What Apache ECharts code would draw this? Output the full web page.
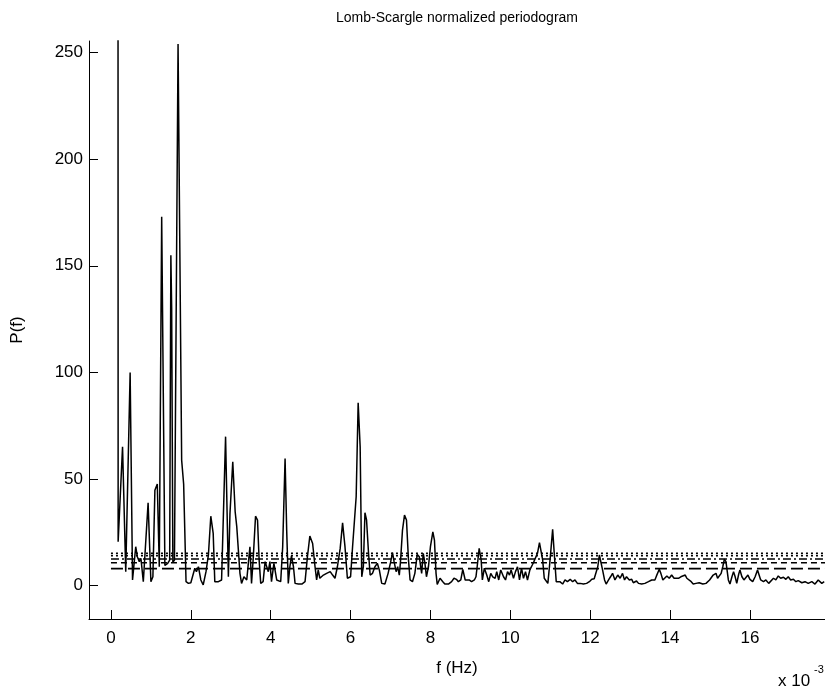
<!DOCTYPE html>
<html>
<head>
<meta charset="utf-8">
<script src="https://cdn.jsdelivr.net/npm/echarts@6/dist/echarts.min.js"></script>
<style>
  html, body { margin: 0; padding: 0; background: #fff; }
  #chart { width: 825px; height: 693px; }
</style>
</head>
<body>
<div id="chart"></div>
<script>
// Lomb-Scargle normalized periodogram, frequency in units of 1e-3 Hz
// [frequency, power] points, split by band
const lowBand = [
  [0.175, 420], [0.18, 20.6], [0.29, 65.2], [0.37, 6.6], [0.48, 100], [0.54, 2.7],
  [0.62, 18.3], [0.66, 13.6], [0.71, 11.3], [0.75, 12.9], [0.81, 1.9], [0.93, 38.9],
  [1.00, 1.9], [1.05, 4.2], [1.10, 44.8], [1.16, 47.7], [1.21, 8.9], [1.27, 173],
  [1.35, 9.5], [1.42, 10.5], [1.47, 12], [1.50, 155], [1.52, 130], [1.55, 11],
  [1.59, 12], [1.68, 254], [1.77, 58.9], [1.82, 47.7], [1.88, 1.9], [1.94, 1.1],
  [2.00, 1.4], [2.05, 1.1]
];
const midBand = [
  [2.10, 8.2], [2.14, 6.6], [2.19, 8.9], [2.25, 2.7], [2.31, 0.4], [2.38, 6.6], [2.44, 14.4],
  [2.50, 32.6], [2.56, 24.5], [2.60, 1.9], [2.69, 1.9], [2.77, 2.7], [2.87, 69.9], [2.94, 4.2],
  [2.98, 33.9], [3.05, 58.1], [3.11, 34.7], [3.15, 27.7], [3.23, 5.8], [3.27, 1.1], [3.33, 4.2],
  [3.40, 2.7], [3.44, 10.5], [3.48, 18.3], [3.52, 1.1], [3.56, 12.1], [3.62, 32.6], [3.67, 30.8],
  [3.71, 12.1], [3.75, 1.1], [3.81, 1.9], [3.86, 11.3], [3.90, 12.1], [3.94, 6.6], [3.98, 11.3],
  [4.02, 1.9], [4.08, 10.5], [4.15, 2.7], [4.19, 3.5], [4.25, 1.9], [4.30, 18.3], [4.36, 59.7],
  [4.40, 26.1], [4.44, 1.1], [4.48, 8.9], [4.52, 14.0], [4.57, 8.9], [4.61, 1.1], [4.69, 0.8],
  [4.78, 0.8], [4.86, 1.9], [4.92, 13.6], [4.98, 23.3], [5.05, 19.8], [5.11, 8.9], [5.15, 2.7],
  [5.19, 7.4], [5.23, 3.5], [5.32, 5.0], [5.40, 5.8], [5.49, 6.6], [5.55, 5.0], [5.61, 3.5],
  [5.67, 8.9], [5.74, 17.5], [5.80, 29.5], [5.86, 18.3], [5.92, 3.5], [5.97, 2.7], [6.00, 4.2],
  [6.05, 18.3], [6.09, 17.5], [6.14, 41.7], [6.19, 85.8], [6.24, 65.2], [6.28, 4.2], [6.32, 8.9],
  [6.36, 34.2], [6.40, 30.8], [6.45, 15.2], [6.49, 5.0], [6.55, 5.8], [6.61, 8.9], [6.67, 10.5],
  [6.72, 7.4], [6.78, 1.1], [6.86, 0.8], [6.94, 5.8], [7.00, 10.8], [7.05, 15.5], [7.09, 11.3],
  [7.14, 6.6], [7.18, 8.9], [7.22, 5.0], [7.25, 11.3], [7.30, 26.1], [7.35, 33.1], [7.40, 30.8],
  [7.45, 12.1], [7.49, 2.7], [7.55, 1.9], [7.61, 5.8], [7.67, 14.7], [7.72, 13.6], [7.78, 5.8],
  [7.82, 15.2], [7.86, 10.8], [7.90, 4.2], [7.95, 8.9], [8.00, 18.3], [8.06, 25.3], [8.10, 21.4],
  [8.14, 5.8], [8.17, 0.6], [8.24, 3.5], [8.31, 1.9], [8.36, 0.8], [8.45, 0.8], [8.53, 1.9],
  [8.59, 3.5], [8.65, 3.0]
];
const highBand = [
  [8.70, 1.9], [8.76, 2.7], [8.81, 7.7], [8.84, 7.4], [8.87, 2.7], [8.92, 1.9], [8.97, 2.7],
  [9.03, 1.9], [9.10, 2.7], [9.14, 4.2], [9.17, 8.9], [9.22, 17.5], [9.27, 12.1], [9.30, 2.7],
  [9.35, 8.2], [9.41, 5.0], [9.46, 1.9], [9.51, 5.8], [9.56, 4.2], [9.62, 3.5], [9.66, 6.6],
  [9.71, 2.7], [9.76, 7.4], [9.83, 4.2], [9.88, 2.7], [9.93, 6.6], [9.98, 5.0], [10.02, 7.4],
  [10.08, 3.5], [10.13, 6.6], [10.18, 8.9], [10.23, 2.7], [10.28, 8.2], [10.33, 3.5], [10.38, 6.6],
  [10.43, 2.7], [10.49, 7.4], [10.55, 9.7], [10.59, 11.3], [10.64, 12.1], [10.68, 15.2], [10.73, 20.2],
  [10.77, 19.5], [10.81, 12.1], [10.85, 3.5], [10.89, 2.7], [10.94, 1.1], [10.98, 8.9], [11.02, 17.5],
  [11.06, 26.4], [11.10, 15.2], [11.15, 1.9], [11.19, 1.1], [11.24, 1.9], [11.31, 0.8], [11.37, 2.7],
  [11.43, 1.9], [11.50, 3.0], [11.56, 1.9], [11.62, 2.7], [11.68, 1.1], [11.75, 1.1], [11.83, 0.8],
  [11.91, 1.1], [11.98, 1.9], [12.04, 3.0], [12.10, 3.3], [12.14, 4.2], [12.19, 8.9], [12.23, 14.4],
  [12.27, 15.2], [12.31, 7.4], [12.36, 2.7], [12.40, 0.8], [12.46, 2.7], [12.51, 4.2], [12.56, 5.8],
  [12.62, 2.7], [12.69, 5.0], [12.75, 3.5], [12.81, 5.8], [12.86, 2.7], [12.91, 4.2], [12.98, 2.7],
  [13.04, 3.0], [13.08, 1.4], [13.16, 2.2], [13.21, 1.1], [13.29, 0.8], [13.37, 1.1], [13.46, 1.9],
  [13.54, 2.7], [13.62, 2.7], [13.66, 4.6], [13.73, 7.7], [13.77, 5.8], [13.82, 2.7], [13.87, 1.9],
  [13.92, 4.6], [13.98, 3.5], [14.04, 5.0], [14.10, 3.5], [14.15, 2.7], [14.21, 3.5], [14.27, 4.2],
  [14.32, 4.2], [14.38, 5.0], [14.42, 3.5], [14.46, 2.7], [14.53, 1.9], [14.58, 0.8], [14.65, 1.1],
  [14.73, 1.4], [14.82, 0.8], [14.90, 1.1], [14.99, 2.7], [15.04, 3.0], [15.08, 5.0], [15.15, 5.8],
  [15.19, 3.5], [15.24, 2.7], [15.28, 5.8], [15.32, 8.9], [15.36, 12.4], [15.40, 11.3], [15.43, 12.1],
  [15.46, 2.7], [15.50, 0.8], [15.55, 4.2], [15.59, 6.6], [15.63, 4.2], [15.67, 1.1], [15.72, 5.5],
  [15.75, 7.4], [15.80, 4.2], [15.85, 2.7], [15.90, 3.5], [15.95, 5.0], [16.00, 3.0], [16.07, 1.9],
  [16.13, 4.2], [16.19, 7.4], [16.23, 7.1], [16.27, 2.7], [16.34, 1.9], [16.40, 2.7], [16.47, 1.1],
  [16.52, 1.9], [16.59, 3.5], [16.65, 2.7], [16.71, 4.6], [16.77, 3.5], [16.84, 4.0], [16.90, 3.0],
  [16.96, 4.2], [17.02, 2.7], [17.09, 3.0], [17.15, 1.9], [17.21, 2.4], [17.30, 1.4], [17.38, 1.9],
  [17.46, 1.1], [17.55, 1.9], [17.63, 0.8], [17.71, 2.7], [17.80, 1.1], [17.86, 1.9]
];

// significance levels drawn as horizontal reference lines
const significanceLevels = [15.2, 14.1, 12.5, 10.8, 8.0];
const levelDashes = [[2, 3], [2, 3], [8, 3, 2, 3], [6, 4], [12, 5]];

const xTicks = [0, 2, 4, 6, 8, 10, 12, 14, 16];
const yTicks = [0, 50, 100, 150, 200, 250];

const fMin = -0.55, fMax = 17.88;
const pMin = -15.6, pMax = 255.4;

const FONT = '"Liberation Sans", Arial, Helvetica, sans-serif';
const spectrum = lowBand.concat(midBand, highBand);

const levelSeries = significanceLevels.map((lvl, i) => ({
  type: 'line',
  data: [[0, lvl], [fMax, lvl]],
  showSymbol: false,
  silent: true,
  lineStyle: { color: '#000', width: 1.6, type: levelDashes[i] },
  z: 1
}));

const chart = echarts.init(document.getElementById('chart'), null, { renderer: 'canvas' });
chart.setOption({
  animation: false,
  backgroundColor: '#fff',
  grid: { left: 89, right: 0, top: 41, bottom: 74, containLabel: false },
  xAxis: {
    type: 'value',
    min: fMin,
    max: fMax,
    name: 'f (Hz)',
    nameLocation: 'middle',
    nameGap: 49,
    nameTextStyle: { fontFamily: FONT, fontSize: 17, color: '#000', verticalAlign: 'middle' },
    axisLine: { onZero: false, lineStyle: { color: '#000', width: 1 } },
    axisTick: { inside: true, length: 9, customValues: xTicks, lineStyle: { color: '#000' } },
    axisLabel: { customValues: xTicks, fontFamily: FONT, fontSize: 17, color: '#000', margin: 11 },
    splitLine: { show: false }
  },
  yAxis: {
    type: 'value',
    min: pMin,
    max: pMax,
    name: 'P(f)',
    nameLocation: 'middle',
    nameGap: 72,
    nameTextStyle: { fontFamily: FONT, fontSize: 17, color: '#000', verticalAlign: 'middle' },
    axisLine: { onZero: false, lineStyle: { color: '#000', width: 1 } },
    axisTick: { inside: true, length: 9, customValues: yTicks, lineStyle: { color: '#000' } },
    axisLabel: { customValues: yTicks, fontFamily: FONT, fontSize: 17, color: '#000', margin: 6 },
    splitLine: { show: false }
  },
  graphic: [
    {
      type: 'text', x: 457, y: 18,
      style: { text: 'Lomb-Scargle normalized periodogram', font: '14px ' + FONT, fill: '#000', align: 'center', verticalAlign: 'middle' }
    },
    {
      type: 'text', x: 778, y: 681,
      style: { text: 'x 10', font: '17px ' + FONT, fill: '#000', align: 'left', verticalAlign: 'middle' }
    },
    {
      type: 'text', x: 814, y: 670,
      style: { text: '-3', font: '11px ' + FONT, fill: '#000', align: 'left', verticalAlign: 'middle' }
    }
  ],
  series: levelSeries.concat([{
    type: 'line',
    data: spectrum,
    showSymbol: false,
    clip: true,
    lineStyle: { color: '#000', width: 1.5 },
    z: 2
  }])
});
</script>
</body>
</html>
